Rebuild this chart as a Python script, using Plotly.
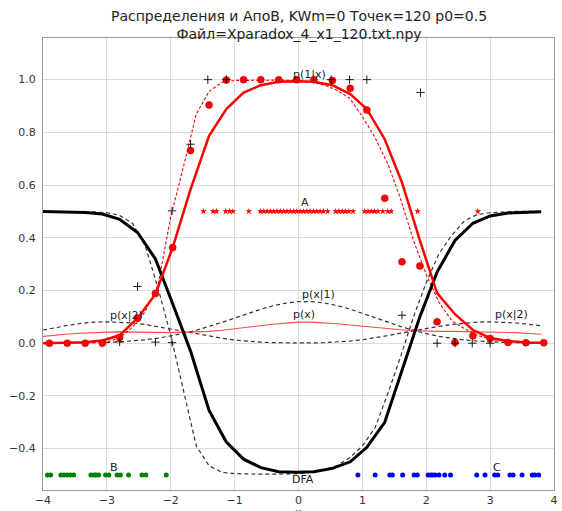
import plotly.graph_objects as go

# ---------------- data ----------------
# bin centres (red dots = estimated p(1|x) per bin)
bin_x = [-3.90, -3.62, -3.34, -3.07, -2.80, -2.52, -2.24, -1.97, -1.69, -1.40,
         -1.13, -0.86, -0.59, -0.31, -0.03, 0.24, 0.53, 0.81, 1.07, 1.35,
         1.62, 1.90, 2.17, 2.45, 2.73, 3.00, 3.28, 3.56, 3.84]
bin_p1 = [0.0, 0.0, 0.0, 0.0, 0.022, 0.095, 0.189, 0.363, 0.731, 0.904,
          0.999, 1.0, 1.0, 1.0, 1.0, 1.0, 0.997, 0.967, 0.885, 0.55,
          0.309, 0.293, 0.081, 0.003, 0.028, 0.018, 0.003, 0.002, 0.002]

# smoothed estimate curves (thick red = p(1|x), thick black = DFA)
est_x = [-4.00, -3.62, -3.34, -3.07, -2.80, -2.52, -2.24, -1.97, -1.69, -1.40,
         -1.13, -0.86, -0.59, -0.31, -0.03, 0.24, 0.53, 0.81, 1.07, 1.35,
         1.62, 1.90, 2.17, 2.45, 2.73, 3.00, 3.28, 3.56, 3.80]
est_p1 = [0.0, 0.002, 0.004, 0.010, 0.030, 0.095, 0.186, 0.363, 0.584, 0.787,
          0.888, 0.951, 0.979, 0.992, 0.994, 0.992, 0.979, 0.945, 0.888, 0.774,
          0.61, 0.39, 0.19, 0.11, 0.05, 0.02, 0.008, 0.003, 0.002]
est_dfa = [0.500, 0.498, 0.496, 0.490, 0.470, 0.420, 0.320, 0.150, -0.030, -0.255,
           -0.375, -0.440, -0.472, -0.488, -0.490, -0.488, -0.475, -0.450, -0.395, -0.300,
           -0.100, 0.100, 0.270, 0.390, 0.455, 0.483, 0.494, 0.498, 0.499]

# "true" curves on a fine grid
grid_x = [-4.0, -3.8, -3.6, -3.4, -3.2, -3.0, -2.8, -2.6, -2.4, -2.2,
          -2.0, -1.8, -1.6, -1.4, -1.2, -1.0, -0.8, -0.6, -0.4, -0.2,
          0.0, 0.2, 0.4, 0.6, 0.8, 1.0, 1.2, 1.4, 1.6, 1.8,
          2.0, 2.2, 2.4, 2.6, 2.8, 3.0, 3.2, 3.4, 3.6, 3.8]
true_p1 = [0.0, 0.0, 0.0, 0.0, 0.002, 0.005, 0.02, 0.06, 0.12, 0.22,
           0.48, 0.67, 0.87, 0.955, 0.99, 0.997, 0.998, 0.998, 0.998, 0.998,
           0.997, 0.99, 0.98, 0.96, 0.93, 0.86, 0.78, 0.68, 0.546, 0.39,
           0.26, 0.155, 0.085, 0.055, 0.03, 0.015, 0.008, 0.005, 0.003, 0.002]
true_dfa = [0.5, 0.5, 0.5, 0.5, 0.498, 0.495, 0.485, 0.455, 0.37, 0.21,
            0.03, -0.18, -0.39, -0.465, -0.49, -0.495, -0.497, -0.497, -0.497, -0.496,
            -0.495, -0.49, -0.48, -0.465, -0.435, -0.39, -0.32, -0.19, -0.05, 0.10,
            0.23, 0.34, 0.41, 0.465, 0.488, 0.495, 0.498, 0.5, 0.5, 0.5]
px_1 = [0.001, 0.001, 0.001, 0.001, 0.002, 0.003, 0.005, 0.008, 0.013, 0.019,
        0.027, 0.037, 0.049, 0.063, 0.079, 0.095, 0.112, 0.128, 0.142, 0.152,
        0.158, 0.158, 0.153, 0.143, 0.130, 0.114, 0.097, 0.080, 0.063, 0.049,
        0.036, 0.026, 0.018, 0.012, 0.008, 0.005, 0.003, 0.002, 0.001, 0.001]
px_2 = [0.050, 0.060, 0.068, 0.075, 0.080, 0.081, 0.080, 0.077, 0.071, 0.062,
        0.053, 0.044, 0.035, 0.027, 0.019, 0.012, 0.007, 0.004, 0.002, 0.001,
        0.001, 0.001, 0.002, 0.004, 0.008, 0.013, 0.020, 0.029, 0.038, 0.047,
        0.056, 0.064, 0.071, 0.076, 0.080, 0.081, 0.080, 0.077, 0.072, 0.066]
px_all = [0.026, 0.031, 0.035, 0.038, 0.041, 0.042, 0.043, 0.043, 0.042, 0.041,
          0.040, 0.041, 0.042, 0.045, 0.049, 0.054, 0.060, 0.066, 0.072, 0.077,
          0.080, 0.080, 0.078, 0.074, 0.069, 0.064, 0.059, 0.055, 0.051, 0.048,
          0.046, 0.045, 0.045, 0.044, 0.044, 0.043, 0.042, 0.040, 0.037, 0.034]

# black "+" markers
plus_x = [-2.80, -2.52, -2.24, -1.98, -1.98, -1.69, -1.42, -1.13, 0.51, 0.80,
          1.07, 1.91, 1.62, 2.17, 2.45, 2.72, 3.00]
plus_y = [0.005, 0.215, 0.004, 0.002, 0.502, 0.755, 1.0, 1.0, 1.0, 1.0,
          1.0, 0.951, 0.106, 0.0, 0.0, 0.0, 0.0]

# sample points
A_x = [-1.487, -1.337, -1.285, -1.140, -1.078, -1.026, -0.777, -0.596, -0.544, -0.492,
       -0.440, -0.389, -0.337, -0.285, -0.233, -0.181, -0.130, -0.078, -0.026, 0.026,
       0.078, 0.130, 0.181, 0.233, 0.285, 0.337, 0.389, 0.456, 0.580, 0.632,
       0.684, 0.736, 0.788, 0.855, 1.036, 1.088, 1.140, 1.192, 1.244, 1.321,
       1.399, 1.451, 1.865, 2.808]
B_x = [-3.93, -3.88, -3.72, -3.67, -3.62, -3.57, -3.52, -3.25, -3.20, -3.17,
       -3.13, -3.02, -2.97, -2.84, -2.79, -2.66, -2.45, -2.39, -2.07]
C_x = [0.93, 1.20, 1.43, 1.47, 1.63, 1.81, 1.86, 2.03, 2.07, 2.10,
       2.14, 2.20, 2.29, 2.38, 2.79, 2.92, 3.07, 3.12, 3.31, 3.36,
       3.50, 3.66, 3.70, 3.76]
A_level = 0.5
BC_level = -0.5

labels = ["p(1|x)", "p(x|1)", "p(x)", "p(x|2)", "p(x|2)", "A", "B", "C", "DFA"]
label_x = [-0.12, 0.02, -0.11, -2.99, 3.05, 0.0, -2.99, 3.01, -0.13]
label_y = [1.021, 0.184, 0.108, 0.104, 0.108, 0.535, -0.47, -0.47, -0.519]

title_lines = ["Распределения и АпоВ, KWm=0 Точек=120 p0=0.5",
               "Файл=Xparadox_4_x1_120.txt.npy"]
x_title = "x"

xticks = [-4, -3, -2, -1, 0, 1, 2, 3, 4]
xtick_text = ["\u22124", "\u22123", "\u22122", "\u22121", "0", "1", "2", "3", "4"]
yticks = [-0.4, -0.2, 0.0, 0.2, 0.4, 0.6, 0.8, 1.0]
ytick_text = ["\u22120.4", "\u22120.2", "0.0", "0.2", "0.4", "0.6", "0.8", "1.0"]

# ---------------- figure ----------------
FONT = "DejaVu Sans"
W, H = 562, 511
L, R, T, B = 43, 4, 38, 20
PH = H - T - B
PW = W - L - R

fig = go.Figure()

dash_gray = "#333333"
fig.add_trace(go.Scatter(x=grid_x, y=px_1, mode="lines",
                         line=dict(color=dash_gray, width=1.2, dash="4px,3px")))
fig.add_trace(go.Scatter(x=grid_x, y=px_2, mode="lines",
                         line=dict(color=dash_gray, width=1.2, dash="4px,3px")))
fig.add_trace(go.Scatter(x=grid_x, y=px_all, mode="lines",
                         line=dict(color="rgba(255,40,40,0.85)", width=1.1)))
fig.add_trace(go.Scatter(x=grid_x, y=true_dfa, mode="lines",
                         line=dict(color=dash_gray, width=1.2, dash="4px,3px")))
fig.add_trace(go.Scatter(x=grid_x, y=true_p1, mode="lines",
                         line=dict(color="red", width=1.1, dash="3px,2px")))
fig.add_trace(go.Scatter(x=est_x, y=est_dfa, mode="lines",
                         line=dict(color="black", width=3)))
fig.add_trace(go.Scatter(x=est_x, y=est_p1, mode="lines",
                         line=dict(color="red", width=2.5)))
fig.add_trace(go.Scatter(x=bin_x, y=bin_p1, mode="markers",
                         marker=dict(color="red", size=7,
                                     line=dict(color="#b00000", width=0.5))))
fig.add_trace(go.Scatter(x=plus_x, y=plus_y, mode="markers",
                         marker=dict(symbol="cross-thin", size=6,
                                     line=dict(color="black", width=0.9))))
fig.add_trace(go.Scatter(x=A_x, y=[A_level] * len(A_x), mode="markers",
                         marker=dict(symbol="star", color="red", size=5, line=dict(width=0))))
fig.add_trace(go.Scatter(x=B_x, y=[BC_level] * len(B_x), mode="markers",
                         marker=dict(color="green", size=5, line=dict(width=0))))
fig.add_trace(go.Scatter(x=C_x, y=[BC_level] * len(C_x), mode="markers",
                         marker=dict(color="blue", size=5, line=dict(width=0))))

annotations = []
for t, x, y in zip(labels, label_x, label_y):
    annotations.append(dict(x=x, y=y, xref="x", yref="y", text=t, showarrow=False,
                            xanchor="left", yanchor="middle",
                            font=dict(family=FONT, size=11, color="#222222")))

title_cx = (301 - L) / PW
annotations.append(dict(x=title_cx, y=1 + (T - 24.5) / PH, xref="paper", yref="paper",
                        text="<br>".join(title_lines), showarrow=False,
                        xanchor="center", yanchor="middle", align="center",
                        font=dict(family=FONT, size=14, color="#222222")))
annotations.append(dict(x=0.0, y=-(505.5 - (H - B)) / PH, xref="x", yref="paper",
                        text=x_title, showarrow=False, xanchor="center", yanchor="top",
                        font=dict(family=FONT, size=11, color="#222222")))

axis_common = dict(showgrid=True, gridcolor="#dcdcdc", gridwidth=1, zeroline=False,
                   showline=True, linecolor="#999999", linewidth=1, mirror=True,
                   ticks="", tickfont=dict(family=FONT, size=11, color="#333333"))

fig.update_layout(
    width=W, height=H,
    margin=dict(l=L, r=R, t=T, b=B, pad=0),
    paper_bgcolor="white", plot_bgcolor="white",
    showlegend=False,
    font=dict(family=FONT, size=11, color="#333333"),
    annotations=annotations,
    xaxis=dict(range=[-4, 4], tickmode="array", tickvals=xticks, ticktext=xtick_text,
               ticklabelstandoff=0, **axis_common),
    yaxis=dict(range=[-0.557, 1.158], tickmode="array", tickvals=yticks,
               ticktext=ytick_text, ticklabelstandoff=4, **axis_common),
)

fig.write_html("out.html",
               config={"displayModeBar": False},
               post_script="document.body.style.margin='0';"
                           "document.body.style.padding='0';"
                           "document.body.style.overflow='hidden';")
